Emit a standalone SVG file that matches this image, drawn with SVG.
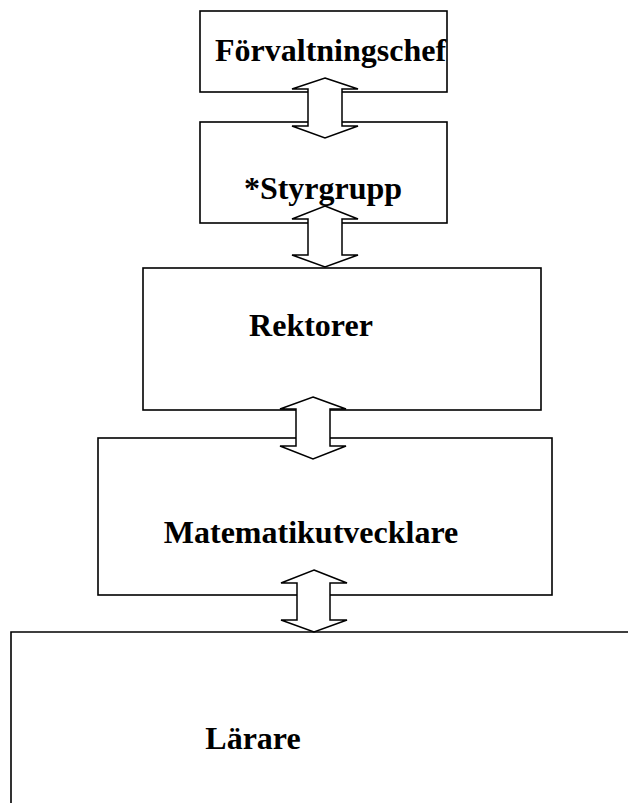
<svg xmlns="http://www.w3.org/2000/svg" width="628" height="803" viewBox="0 0 628 803">
<style>
.box{fill:#fff;stroke:#000;stroke-width:1.6}
.lbl{font-family:"Liberation Serif","Times New Roman",serif;font-weight:bold;font-size:32px;fill:#000}
.arr{fill:#fff;stroke:#000;stroke-width:1.5;stroke-linejoin:miter}
</style>
<rect width="628" height="803" fill="#fff"/>
<g id="forvaltningschef">
<rect class="box" x="200" y="11" width="247" height="81"/>
<text class="lbl" x="215" y="61">Förvaltningschef</text>
</g>
<g id="styrgrupp">
<rect class="box" x="200" y="122" width="247" height="101"/>
<text class="lbl" x="323" y="199" text-anchor="middle">*Styrgrupp</text>
</g>
<g id="rektorer">
<rect class="box" x="143" y="268" width="398" height="142"/>
<text class="lbl" x="311" y="336" text-anchor="middle">Rektorer</text>
</g>
<g id="matematikutvecklare">
<rect class="box" x="98" y="438" width="454" height="157"/>
<text class="lbl" x="311" y="543" text-anchor="middle">Matematikutvecklare</text>
</g>
<g id="larare">
<path class="box" d="M11 805 V632 H630" fill="none"/>
<text class="lbl" x="253" y="749" text-anchor="middle">Lärare</text>
</g>
<g id="connectors">
<polygon class="arr" points="325,78 358,89 342,89 342,126 358,126 325,138 292,126 308,126 308,89 292,89"/>
<polygon class="arr" points="325,206 358,219 342,219 342,255 358,255 325,267 292,255 308,255 308,219 292,219"/>
<polygon class="arr" points="313,397 346,409 330,409 330,446 346,446 313,459 280,446 296,446 296,409 280,409"/>
<polygon class="arr" points="314,570 347,583 330,583 330,620 347,620 314,632 281,620 297,620 297,583 281,583"/>
</g>
</svg>
